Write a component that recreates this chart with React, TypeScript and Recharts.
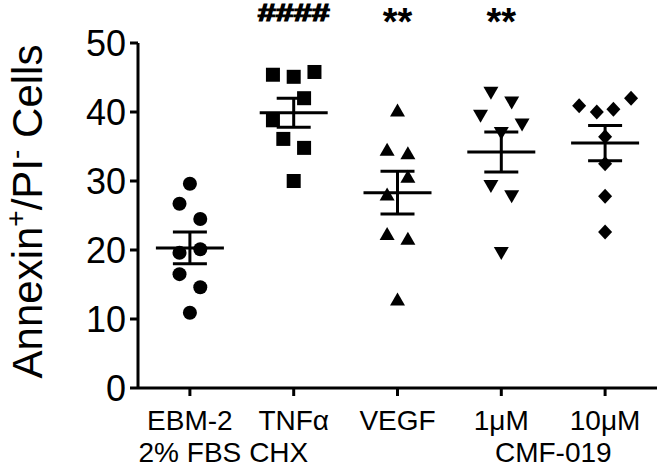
import React from 'react';
import { ScatterChart, Scatter, XAxis, YAxis, ErrorBar } from 'recharts';

// categories and tick labels
const groups = ['EBM-2', 'TNFα', 'VEGF', '1μM', '10μM'];
const groupSubLabels = ['2% FBS', 'CHX', '', '', ''];
const compoundLabel = 'CMF-019';
const significance = ['', '####', '**', '**', ''];
const yTicks = [0, 10, 20, 30, 40, 50];

// individual replicates (value + horizontal jitter, in category units)
const ebmValues = [29.6, 26.7, 24.5, 19.6, 20.1, 16.5, 14.6, 10.9];
const ebmJitter = [0, -0.1, 0.1, -0.1, 0.1, -0.1, 0.1, 0];
const tnfValues = [45.4, 45.1, 45.8, 42.0, 38.8, 36.1, 34.8, 30.0];
const tnfJitter = [-0.2, 0, 0.2, 0.1, -0.2, -0.1, 0.1, 0];
const vegfValues = [40.3, 34.6, 34.1, 30.7, 28.1, 22.4, 21.7, 12.9];
const vegfJitter = [0, -0.1, 0.1, 0.1, -0.1, -0.1, 0.1, 0];
const cmf1Values = [42.7, 41.3, 39.4, 38.1, 36.9, 29.2, 27.7, 19.5];
const cmf1Jitter = [-0.1, 0.1, -0.2, 0.2, 0, -0.1, 0.1, 0];
const cmf10Values = [40.9, 40.0, 40.4, 42.0, 36.4, 32.5, 27.8, 22.6];
const cmf10Jitter = [-0.25, -0.08, 0.08, 0.25, 0, 0, 0, 0];

// mean +/- SEM per group
const means = [20.3, 39.9, 28.3, 34.2, 35.5];
const sems = [2.3, 2.1, 3.1, 2.9, 2.55];

const FONT = '"Liberation Sans", Arial, Helvetica, sans-serif';

const toPoints = (group: number, values: number[], jitter: number[]) =>
  values.map((v, i) => ({ x: group + jitter[i], y: v }));

const meanData = means.map((m, i) => ({ x: i + 1, y: m, sem: sems[i] }));
const sigData = significance.map((s, i) => ({ x: i + 1, y: 50, label: s })).filter(d => d.label);

type Kind = 'circle' | 'square' | 'up' | 'down' | 'diamond';

const marker = (kind: Kind) => (props: any) => {
  const { cx, cy } = props;
  if (cx == null || cy == null) return null;
  switch (kind) {
    case 'circle':
      return <circle cx={cx} cy={cy} r={7} fill="#000" />;
    case 'square':
      return <rect x={cx - 7} y={cy - 7} width={14} height={14} fill="#000" />;
    case 'up':
      return <polygon points={`${cx},${cy - 6.5} ${cx + 7.5},${cy + 6.5} ${cx - 7.5},${cy + 6.5}`} fill="#000" />;
    case 'down':
      return <polygon points={`${cx - 7.5},${cy - 6.5} ${cx + 7.5},${cy - 6.5} ${cx},${cy + 6.5}`} fill="#000" />;
    default:
      return <polygon points={`${cx},${cy - 7.5} ${cx + 7},${cy} ${cx},${cy + 7.5} ${cx - 7},${cy}`} fill="#000" />;
  }
};

const MeanLine = (props: any) => {
  const { cx, cy } = props;
  if (cx == null || cy == null) return null;
  return <line x1={cx - 34} x2={cx + 34} y1={cy} y2={cy} stroke="#000" strokeWidth={3} />;
};

const SigMark = (props: any) => {
  const { cx, cy, payload } = props;
  if (cx == null || cy == null) return null;
  const isHash = payload.label.startsWith('#');
  if (isHash) {
    // the hashes in the original are wide and run into each other
    return (
      <text
        transform={`translate(${cx}, ${cy - 22}) scale(1.35, 1)`}
        textAnchor="middle"
        fontFamily={FONT}
        fontWeight="bold"
        fontSize={24}
        fill="#000"
        stroke="#000"
        strokeWidth={1.2}
      >
        {payload.label}
      </text>
    );
  }
  return (
    <text
      x={cx}
      y={cy - 8}
      textAnchor="middle"
      fontFamily={FONT}
      fontWeight="bold"
      fontSize={38}
      fill="#000"
    >
      {payload.label}
    </text>
  );
};

const XTick = (props: any) => {
  const { x, y, payload } = props;
  const i = Math.round(payload.value) - 1;
  const sub = groupSubLabels[i];
  return (
    <g fontFamily={FONT} fontSize={28} fill="#000">
      <text x={x} y={y + 32} textAnchor="middle" fill="#000">{groups[i]}</text>
      {sub && (
        <text x={x + (i === 1 ? -15 : 0)} y={y + 64} textAnchor="middle" fill="#000">{sub}</text>
      )}
      {i === 3 && (
        <text x={x + 52} y={y + 64} textAnchor="middle" fill="#000">{compoundLabel}</text>
      )}
    </g>
  );
};

const YLabel = (props: any) => {
  const vb = props.viewBox || { x: 0, y: 43, width: 138, height: 345 };
  const cy = vb.y + vb.height / 2 - 4;
  return (
    <text
      transform={`translate(42, ${cy}) rotate(-90)`}
      textAnchor="middle"
      fontFamily={FONT}
      fontSize={42}
      fill="#000"
    >
      <tspan>Annexin</tspan>
      <tspan dy={-17} fontSize={28}>+</tspan>
      <tspan dy={17}>/PI</tspan>
      <tspan dy={-17} fontSize={28}>-</tspan>
      <tspan dy={17}> Cells</tspan>
    </text>
  );
};

export default function App() {
  return (
    <div style={{ position: 'absolute', left: 0, top: 0, background: '#fff' }}>
      <ScatterChart width={660} height={468} margin={{ top: 43, right: 3, bottom: 0, left: 0 }}>
        <XAxis
          type="number"
          dataKey="x"
          domain={[0.5, 5.5]}
          ticks={[1, 2, 3, 4, 5]}
          height={80}
          tickSize={8}
          tick={<XTick />}
          axisLine={{ stroke: '#000', strokeWidth: 3 }}
          tickLine={{ stroke: '#000', strokeWidth: 3 }}
        />
        <YAxis
          type="number"
          dataKey="y"
          domain={[0, 50]}
          ticks={yTicks}
          width={138}
          tickSize={8}
          tickMargin={4}
          tick={{ fill: '#000', fontSize: 36, fontFamily: FONT }}
          axisLine={{ stroke: '#000', strokeWidth: 3 }}
          tickLine={{ stroke: '#000', strokeWidth: 3 }}
          label={<YLabel />}
        />
        <Scatter data={toPoints(1, ebmValues, ebmJitter)} shape={marker('circle')} isAnimationActive={false} />
        <Scatter data={toPoints(2, tnfValues, tnfJitter)} shape={marker('square')} isAnimationActive={false} />
        <Scatter data={toPoints(3, vegfValues, vegfJitter)} shape={marker('up')} isAnimationActive={false} />
        <Scatter data={toPoints(4, cmf1Values, cmf1Jitter)} shape={marker('down')} isAnimationActive={false} />
        <Scatter data={toPoints(5, cmf10Values, cmf10Jitter)} shape={marker('diamond')} isAnimationActive={false} />
        <Scatter data={meanData} shape={<MeanLine />} isAnimationActive={false}>
          <ErrorBar dataKey="sem" direction="y" width={17} stroke="#000" strokeWidth={3} isAnimationActive={false} />
        </Scatter>
        <Scatter data={sigData} shape={<SigMark />} isAnimationActive={false} />
      </ScatterChart>
    </div>
  );
}
